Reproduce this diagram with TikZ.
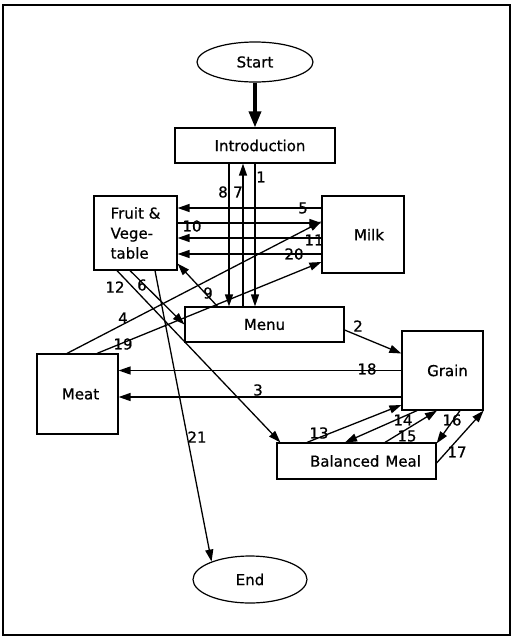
\documentclass[tikz,border=0pt]{standalone}
\usepackage{fontspec}
\setmainfont{DejaVu Sans}[FakeBold=0.8]
\usetikzlibrary{shapes.geometric,arrows.meta,calc}

\tikzset{
	box/.style={draw, line width=1.2pt, inner sep=0pt},
	oval/.style={draw, ellipse, line width=1.2pt, inner sep=0pt},
	flow/.style={line width=1.3pt, -{Triangle[length=12pt,width=8pt]}},
	lab/.style={inner sep=0pt}
}

\begin{document}
\begin{tikzpicture}[x=1pt,y=-1pt,font=\fontsize{15}{20}\selectfont]
\useasboundingbox (0,0) rectangle (512,638);
\draw[line width=1.5pt] (3,5) rectangle (510,635);

\node[oval,minimum width=116pt,minimum height=40pt] (start) at (255,62) {Start};
\node[box,minimum width=160pt,minimum height=35pt] (intro) at (255,145.5) {\hspace*{10pt}Introduction};
\node[box,minimum width=83pt,minimum height=74pt,align=left] (fruit) at (135.5,233) {Fruit \&\\Vege-\\table};
\node[box,minimum width=82pt,minimum height=77pt] (milk) at (363,234.5) {\hspace*{12pt}Milk};
\node[box,minimum width=159pt,minimum height=35pt] (menu) at (264.5,324.5) {Menu};
\node[box,minimum width=81pt,minimum height=79pt] (grain) at (442.5,370.5) {\hspace*{10pt}Grain};
\node[box,minimum width=159pt,minimum height=36pt] (meal) at (356.5,461) {\hspace*{18pt}Balanced\hspace{0.4em}Meal};
\node[box,minimum width=81pt,minimum height=80pt] (meat) at (77.5,394) {\hspace*{6pt}Meat};
\node[oval,minimum width=114pt,minimum height=47pt] (endn) at (250,579.5) {End};

\draw[line width=3.4pt,-{Triangle[length=16pt,width=12pt]}] (start) -- (intro);

\draw[flow] (intro.south) -- (intro.south |- menu.north);
\draw[flow] ($(intro.south |- menu.north)+(-12,0)$) -- ($(intro.south)+(-12,0)$);
\draw[flow] ($(intro.south)+(-26,0)$) -- ($(intro.south |- menu.north)+(-26,0)$);

\draw[flow] ($(milk.west)+(0,-26.5)$) -- ($(milk.west -| fruit.east)+(0,-26.5)$);
\draw[flow] ($(milk.west -| fruit.east)+(0,-11.5)$) -- ($(milk.west)+(0,-11.5)$);
\draw[flow] ($(milk.west)+(0,3.5)$) -- ($(milk.west -| fruit.east)+(0,3.5)$);
\draw[flow] ($(milk.west)+(0,19.5)$) -- ($(milk.west -| fruit.east)+(0,19.5)$);

\draw[flow] ($(meat.north)+(-10.5,0)$) -- ($(milk.west)+(0,-13)$);
\draw[flow] ($(meat.north)+(19.5,0)$) -- ($(milk.west)+(0,27.5)$);
\draw[flow] ($(menu.north)+(-47,0)$) -- ($(fruit.south east)+(0,-7)$);
\draw[flow] ($(fruit.south)+(-5.5,0)$) -- (menu.west);
\draw[flow] ($(fruit.south)+(-18.5,0)$) -- ($(meal.north west)+(4,0)$);
\draw[flow] ($(fruit.south)+(19.5,0)$) -- (endn.155);

\draw[flow] ($(menu.east)+(0,5.5)$) -- ($(grain.west)+(0,-17)$);
\draw[flow] (grain.west) -- (grain.west -| meat.east);
\draw[flow] ($(grain.west)+(0,26.5)$) -- ($(grain.west -| meat.east)+(0,26.5)$);

\draw[flow] ($(meal.north)+(-49.5,0)$) -- ($(grain.west)+(0,34.5)$);
\draw[flow] ($(grain.south)+(-25.5,0)$) -- ($(meal.north)+(-11.5,0)$);
\draw[flow] ($(meal.north)+(28.5,0)$) -- ($(grain.south)+(-5.5,0)$);
\draw[flow] ($(grain.south)+(17.5,0)$) -- ($(meal.north east)+(0,1)$);
\draw[flow] ($(meal.east)+(0,2)$) -- (grain.south east);

\foreach \n/\x/\y in {1/261/177, 2/358/326, 3/258/390, 4/123/318, 5/303/208,
	6/142/285, 7/238/192, 8/223/192, 9/208/293, 10/192/226, 11/314/240,
	12/115/287, 13/319/433, 14/403/420, 15/407/436, 16/452/420, 17/457/452,
	18/367/369, 19/123/344, 20/294/254, 21/197/437}
	\node[lab] (n-\n) at (\x,\y) {\n};
\end{tikzpicture}
\end{document}
